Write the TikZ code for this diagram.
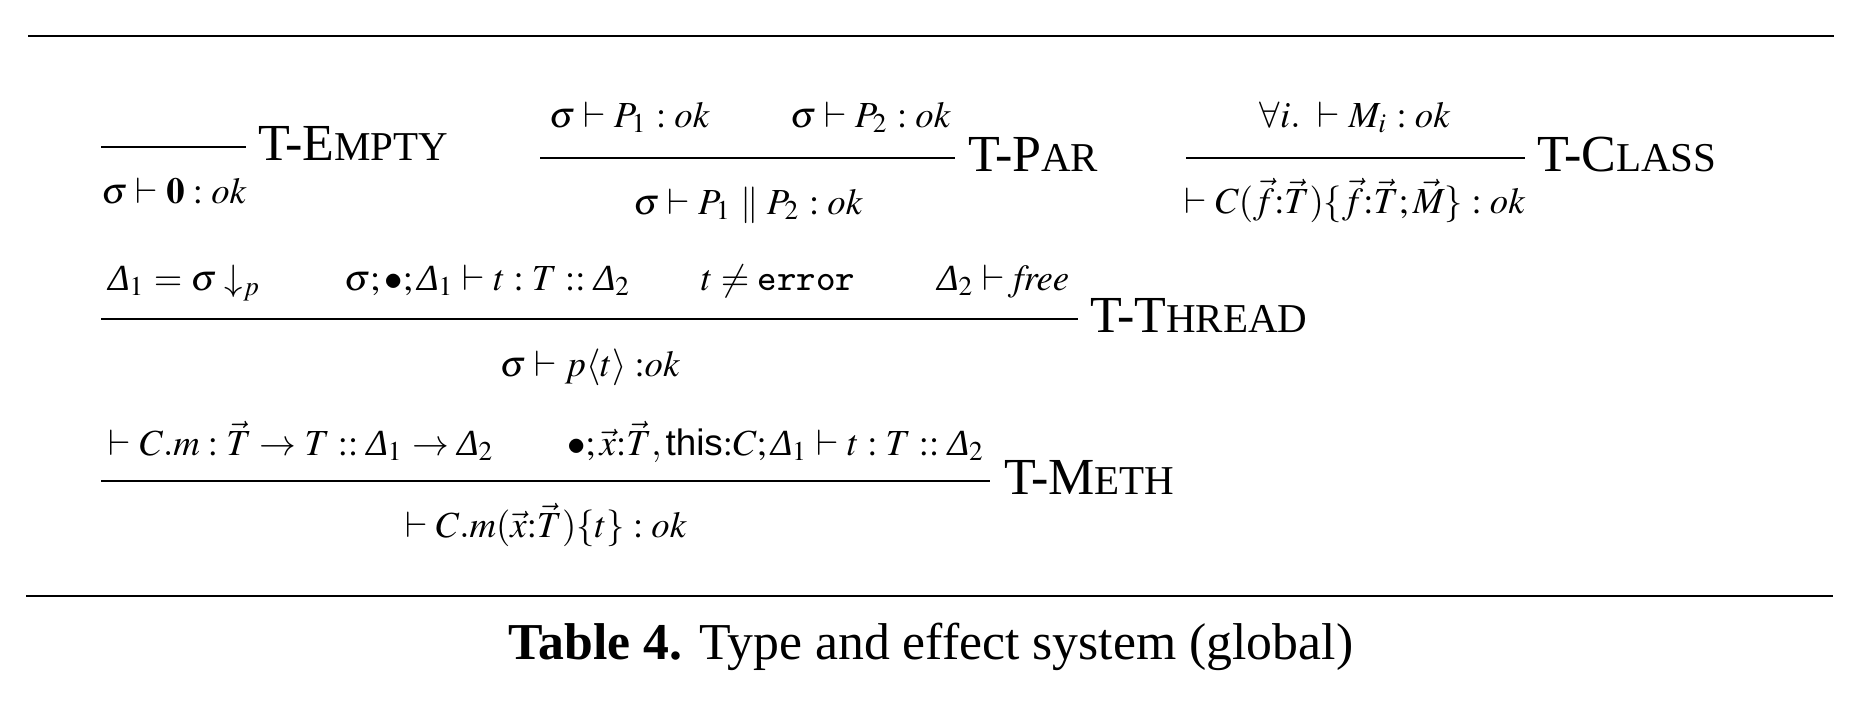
\documentclass[tikz,border=0pt]{standalone}
\usepackage{mathptmx}
\usepackage{fontspec}
\setmainfont{Liberation Serif}
\setsansfont{Liberation Sans}
\newcommand\Dl{\mbox{\itshape Δ}}
\newcommand\fksc[1]{{\fontsize{8.2}{9}\selectfont #1}}
\begin{document}
\begin{tikzpicture}[x=0.2pt,y=-0.2pt,
  mth/.style={font=\fontsize{7.35}{8.8}\selectfont, inner sep=0pt, outer sep=0pt},
  premL/.style={mth, anchor=base west},
  midc/.style={mth, anchor=base},
  lbl/.style={font=\fontsize{10.4}{12}\selectfont, inner sep=0pt, outer sep=0pt, anchor=base west},
  infline/.style={line width=0.4pt},
  framerule/.style={line width=0.5pt}]
\useasboundingbox (0,0) rectangle (1852,712);

% frame rules
\coordinate (topL) at (28,36);
\coordinate (topR) at (1834,36);
\coordinate (botL) at (26,596);
\coordinate (botR) at (1833,596);
\draw[framerule] (topL) -- (topR);
\draw[framerule] (botL) -- (botR);

% T-Empty
\coordinate (emL) at (101,147);
\coordinate (emR) at (246,147);
\draw[infline] (emL) -- (emR);
\node[lbl] (emLbl) at (258,160) {T-E\fksc{MPTY}};
\node[midc] (emC) at (174,203) {$\sigma \vdash \mathbf{0} : \mathit{ok}$};

% T-Par
\node[premL] (parP1) at (549,127) {$\sigma \vdash P_1 : \mathit{ok}$};
\node[premL] (parP2) at (790,127) {$\sigma \vdash P_2 : \mathit{ok}$};
\coordinate (parL) at (540,158);
\coordinate (parR) at (955,158);
\draw[infline] (parL) -- (parR);
\node[lbl] (parLbl) at (968,171) {T-P\fksc{AR}};
\node[midc] (parC) at (748,214) {$\sigma \vdash P_1 \parallel P_2 : \mathit{ok}$};

% T-Class
\node[midc] (clP) at (1355,127) {$\forall i.\ \vdash M_i : \mathit{ok}$};
\coordinate (clL) at (1186,158);
\coordinate (clR) at (1525,158);
\draw[infline] (clL) -- (clR);
\node[lbl] (clLbl) at (1537,171) {T-C\fksc{LASS}};
\node[midc] (clC) at (1355,213) {$\vdash C(\vec{f}{:}\vec{T})\{\vec{f}{:}\vec{T};\vec{M}\} : \mathit{ok}$};

% T-Thread
\node[premL] (thP1) at (108,290) {$\Dl_1 = \sigma \downarrow_p$};
\node[premL] (thP2) at (344,290) {$\sigma;\bullet;\Dl_1 \vdash t : T :: \Dl_2$};
\node[premL] (thP3) at (701,290) {$t \neq \texttt{error}$};
\node[premL] (thP4) at (937,290) {$\Dl_2 \vdash \mathit{free}$};
\coordinate (thL) at (101,319);
\coordinate (thR) at (1078,319);
\draw[infline] (thL) -- (thR);
\node[lbl] (thLbl) at (1090,332) {T-T\fksc{HREAD}};
\node[midc] (thC) at (590,376) {$\sigma \vdash p\langle t\rangle\;{:}\mathit{ok}$};

% T-Meth
\node[premL] (meP1) at (109,455) {$\vdash C.m : \vec{T} \to T :: \Dl_1 \to \Dl_2$};
\node[premL] (meP2) at (567,455) {$\bullet;\vec{x}{:}\vec{T},\textsf{this}{:}C;\Dl_1 \vdash t : T :: \Dl_2$};
\coordinate (meL) at (101,481);
\coordinate (meR) at (990,481);
\draw[infline] (meL) -- (meR);
\node[lbl] (meLbl) at (1004,494) {T-M\fksc{ETH}};
\node[midc] (meC) at (546,537) {$\vdash C.m(\vec{x}{:}\vec{T})\{t\} : \mathit{ok}$};

% caption
\node[font=\fontsize{10.35}{12}\selectfont, inner sep=0pt, anchor=base] (cap) at (931,659) {\textbf{Table 4.} Type and effect system (global)};
\end{tikzpicture}
\end{document}
